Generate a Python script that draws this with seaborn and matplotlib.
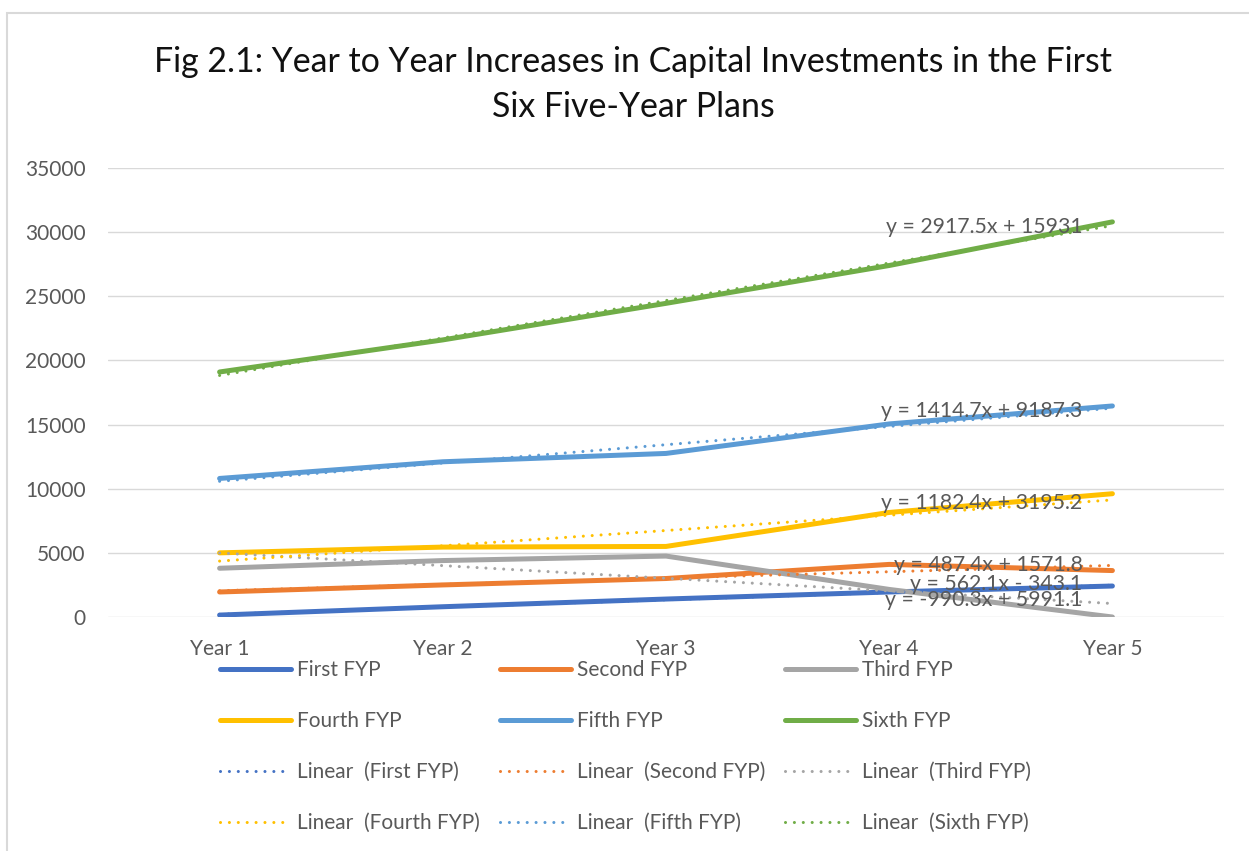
import numpy as np
import pandas as pd
import matplotlib
matplotlib.use("Agg")
import matplotlib.pyplot as plt
from matplotlib.lines import Line2D
from matplotlib.patches import Rectangle
import seaborn as sns

# --------------------------------------------------
# Data
# --------------------------------------------------
years = ["Year 1", "Year 2", "Year 3", "Year 4", "Year 5"]
plans = ["First FYP", "Second FYP", "Third FYP", "Fourth FYP", "Fifth FYP", "Sixth FYP"]

first_fyp = [150, 800, 1400, 1950, 2415]
second_fyp = [1950, 2500, 3000, 4100, 3620]
third_fyp = [3800, 4400, 4750, 2150, 0]
fourth_fyp = [5000, 5450, 5500, 8150, 9610]
fifth_fyp = [10800, 12100, 12750, 15050, 16450]
sixth_fyp = [19100, 21600, 24450, 27400, 30800]

# trendline equations as printed on the chart
equations = [
    "y = 562.1x - 343.1",
    "y = 487.4x + 1571.8",
    "y = -990.3x + 5991.1",
    "y = 1182.4x + 3195.2",
    "y = 1414.7x + 9187.3",
    "y = 2917.5x + 15931",
]

colors = ["#4472C4", "#ED7D31", "#A5A5A5", "#FFC000", "#5B9BD5", "#70AD47"]

# --------------------------------------------------
# Layout
# --------------------------------------------------
W, H = 1249, 851
eq_label_x = 4.866
eq_label_y = [2570, 4050, 1330, 8910, 16080, 30420]
TEXT = "#595959"
GRID = "#D9D9D9"
SOLID_LW = 3.6
DOT_LW = 2.2
DOTS = (0, (0.01, 2.9))

series = [first_fyp, second_fyp, third_fyp, fourth_fyp, fifth_fyp, sixth_fyp]
df = pd.DataFrame(
    [(i + 1, v, p) for p, vals in zip(plans, series) for i, v in enumerate(vals)],
    columns=["year", "value", "plan"],
)

sns.set_theme(style="white")
plt.rcParams["font.family"] = ["Lato", "DejaVu Sans"]

fig = plt.figure(figsize=(W / 100, H / 100), dpi=100)
ax = fig.add_axes([108 / W, 234 / H, (1224 - 108) / W, (617 - 168) / H])

# chart border
fig.patches.append(Rectangle((7 / W, -0.05), 1.2, 1 - 13 / H + 0.05,
                             transform=fig.transFigure, fill=False,
                             edgecolor=GRID, linewidth=1.5))

sns.lineplot(data=df, x="year", y="value", hue="plan", hue_order=plans,
             palette=colors, linewidth=SOLID_LW, legend=False, ax=ax,
             solid_capstyle="round", zorder=3)

for p, c in zip(plans, colors):
    sub = df[df["plan"] == p]
    sns.regplot(data=sub, x="year", y="value", scatter=False, ci=None,
                truncate=True, ax=ax,
                line_kws=dict(color=c, linewidth=DOT_LW, linestyle=DOTS,
                              dash_capstyle="round", zorder=4))

for eq, y in zip(equations, eq_label_y):
    ax.text(eq_label_x, y, eq, ha="right", va="center", fontsize=15.3,
            color=TEXT, zorder=6)

ax.set_xlim(0.5, 5.5)
ax.set_ylim(0, 35000)
ax.set_xticks(range(1, 6))
ax.set_xticklabels(years)
ax.set_yticks(range(0, 35001, 5000))
ax.set_xlabel("")
ax.set_ylabel("")
ax.tick_params(axis="both", length=0, labelsize=15, labelcolor=TEXT)
ax.tick_params(axis="y", pad=16)
ax.tick_params(axis="x", pad=16)
ax.grid(axis="y", color=GRID, linewidth=1.0)
ax.set_axisbelow(True)
for s in ax.spines.values():
    s.set_visible(False)

# title
fig.text(633 / W, 1 - 72 / H,
         "Fig 2.1: Year to Year Increases in Capital Investments in the First",
         ha="center", va="baseline", fontsize=24.4, color="#111111")
fig.text(633 / W, 1 - 117 / H, "Six Five-Year Plans",
         ha="center", va="baseline", fontsize=24.4, color="#111111")

# legend (Excel fills row by row, matplotlib column by column)
solid_h = [Line2D([], [], color=c, linewidth=SOLID_LW, solid_capstyle="round") for c in colors]
dot_h = [Line2D([], [], color=c, linewidth=DOT_LW, linestyle=DOTS, dash_capstyle="round") for c in colors]
lin_labels = [f"Linear  ({p})" for p in plans]
rows_h = [solid_h[0:3], solid_h[3:6], dot_h[0:3], dot_h[3:6]]
rows_l = [plans[0:3], plans[3:6], lin_labels[0:3], lin_labels[3:6]]
handles = [rows_h[r][c] for c in range(3) for r in range(4)]
labels = [rows_l[r][c] for c in range(3) for r in range(4)]
fig.legend(handles, labels, ncol=3, loc="upper left",
           bbox_to_anchor=(220 / W, 1 - 660 / H), frameon=False,
           fontsize=15, labelcolor=TEXT, handlelength=3.4, handletextpad=0.3,
           columnspacing=0.95, labelspacing=1.49, borderaxespad=0, borderpad=0)

fig.savefig("out.png", dpi=100)
